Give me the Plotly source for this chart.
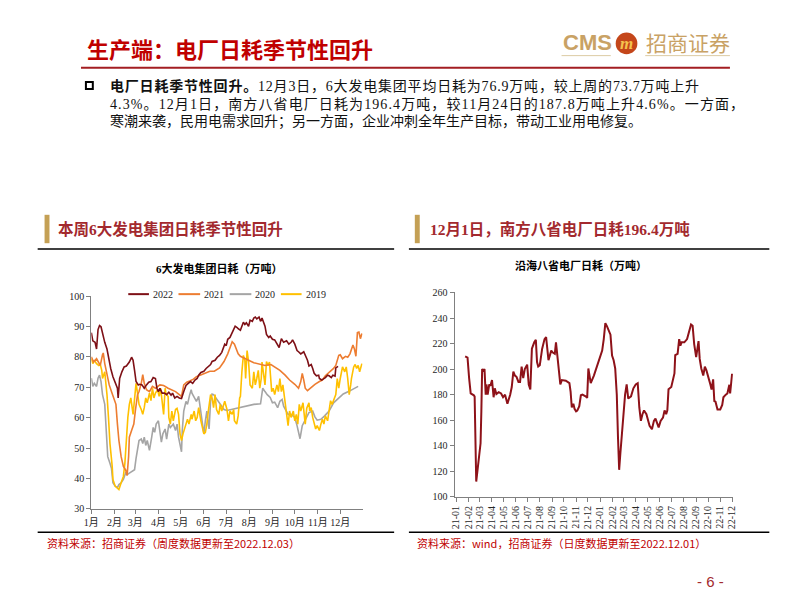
import plotly.graph_objects as go

# The page body has an 8px margin, so the figure is 786x586 and placed at (8, 8).
OFF = 8
W, H = 786, 586
def fx(x): return (x - OFF) / W
def fy(y): return 1 - (y - OFF) / H

# ---------------- Data: left chart (day of year, 10k tons) ----------------
month_days = [0, 31, 59, 90, 120, 151, 181, 212, 243, 273, 304, 334]
month_labels = ["1月", "2月", "3月", "4月", "5月", "6月", "7月", "8月", "9月", "10月", "11月", "12月"]

d2022 = [0, 2, 5, 7, 9, 11, 13, 15, 18, 21,
         23, 26, 29, 32, 35, 36, 38, 41, 44, 47,
         49, 51, 54, 56, 58, 60, 63, 65, 68, 71,
         74, 77, 80, 83, 86, 88, 90, 92, 95, 98,
         101, 104, 107, 109, 112, 115, 118, 121, 124, 127,
         130, 133, 136, 139, 142, 144, 147, 151, 154, 157,
         160, 162, 166, 169, 172, 175, 177, 179, 181, 183,
         186, 188, 191, 193, 196, 197, 200, 202, 204, 206,
         208, 211, 213, 216, 218, 220, 222, 225, 227, 229,
         231, 233, 235, 238, 240, 243, 246, 249, 252, 255,
         258, 262, 265, 268, 270, 273, 276, 278, 281, 285,
         287, 290, 292, 295, 297, 299, 302, 305, 306, 309,
         311, 314, 317, 319, 322, 324, 327, 328, 331]
v2022 = [88, 85.3, 84.8, 82.6, 89, 90.3, 89.9, 87.4, 84.8, 82.6,
         79.4, 76.2, 73.5, 71.3, 69.7, 66.5, 72.9, 75.1, 76.7, 77,
         77.5, 78.3, 79.9, 78.9, 75.6, 71.9, 70.8, 71, 70.8, 69.7,
         70.8, 71.7, 71.9, 73.2, 72.9, 69.7, 68.6, 69.7, 68.1, 68.1,
         67.6, 68.4, 67.4, 68.1, 66.5, 67, 66.5, 66.3, 68.6, 70.6,
         71.3, 71.9, 71.3, 72.4, 72.9, 74, 74.9, 75.3, 76.2, 76.7,
         77.5, 78.5, 78.9, 79.9, 80.5, 81.5, 83.1, 84.2, 83.7, 85.8,
         86.4, 87.4, 88.8, 90.1, 89.6, 89.3, 88.8, 90.1, 91.4, 90.7,
         91.2, 90.1, 92.1, 91.7, 92.8, 93.1, 92.5, 93.1, 91.7, 92.8,
         91.4, 90.1, 87.4, 86.4, 86.9, 85.8, 85.6, 84.5, 83.1, 86,
         84.8, 85.3, 84.2, 84.8, 85.6, 84.2, 82.1, 81.7, 81, 81.7,
         80.7, 78.9, 77, 77.5, 76.2, 74.6, 73.8, 74, 72.9, 72.4,
         72.7, 73.2, 74, 73.8, 73.2, 74, 73.7, 76.4, 76.9]

d2021 = [0, 3, 7, 12, 15, 16, 18, 21, 24, 27,
         30, 33, 35, 37, 40, 43, 46, 48, 50, 51,
         54, 57, 59, 62, 64, 67, 69, 71, 74, 78,
         82, 86, 92, 97, 103, 108, 113, 118, 121, 124,
         128, 132, 137, 141, 146, 152, 159, 165, 172, 178,
         183, 187, 189, 192, 194, 197, 200, 206, 211, 218,
         226, 233, 241, 246, 253, 260, 266, 273, 278, 281,
         283, 285, 287, 290, 295, 300, 306, 310, 314, 320,
         325, 328, 332, 334, 337, 341, 344, 347, 351, 353,
         355, 357, 359, 361, 363]
v2021 = [80, 78.3, 79.4, 77.2, 80.7, 81.3, 77.8, 74, 70.8, 68.6,
         66.7, 64.4, 57.9, 52.5, 47.2, 44, 42.9, 41, 47.2, 53.6,
         55.8, 57.9, 62.2, 67.6, 68.6, 71.3, 74.2, 71.3, 69.2, 68.6,
         70.3, 69.7, 70.8, 70.6, 69.7, 69.2, 68.6, 67.6, 67, 70.8,
         71.7, 72.1, 72.7, 73.5, 74, 74.6, 75.3, 75.3, 76.4, 78.5,
         81, 83.7, 85, 84.2, 82.6, 81, 80.2, 79.6, 78.9, 78.1,
         77.5, 77.2, 77.5, 76.7, 75.6, 74, 72.4, 71, 69.7, 71.9,
         74.6, 72.4, 69.7, 68.9, 70, 71, 71.9, 72.4, 73.8, 75.1,
         76.2, 77.2, 80.5, 80.7, 79.4, 80.2, 79.9, 81, 83.9, 82.6,
         80.2, 88, 88.2, 86, 87.7]

d2020 = [0, 2, 4, 7, 9, 11, 13, 15, 18, 19,
         21, 22, 25, 27, 29, 32, 35, 37, 40, 43,
         46, 48, 51, 55, 58, 60, 62, 64, 67, 69,
         71, 73, 75, 78, 81, 83, 85, 87, 90, 92,
         94, 96, 99, 101, 104, 106, 108, 110, 113, 115,
         117, 119, 121, 122, 124, 127, 129, 132, 134, 135,
         138, 141, 144, 147, 149, 151, 153, 155, 157, 158,
         160, 162, 164, 167, 171, 174, 178, 182, 187, 194,
         200, 209, 218, 227, 230, 233, 236, 240, 243, 246,
         250, 253, 256, 258, 261, 264, 268, 273, 276, 278,
         280, 283, 286, 289, 292, 297, 300, 303, 308, 313,
         319, 325, 332, 338, 345, 352, 358]
v2020 = [73, 70.3, 71.3, 70.3, 73, 74, 71.9, 67.6, 64.4, 59,
         52.5, 47.2, 45, 43.4, 38.6, 37.5, 37, 38, 38.6, 39.7,
         41.8, 41.3, 41.8, 42.3, 42.9, 46.6, 50.4, 52.5, 53, 51.5,
         53.6, 50.9, 52.5, 49.3, 53.6, 56.8, 55.2, 57.9, 59, 55.8,
         52, 54.7, 56.3, 53, 57.9, 56.8, 57.4, 57.9, 55.8, 57.9,
         53.6, 51.5, 48.8, 55.8, 62.2, 65.4, 64.4, 67.6, 69.2, 68.1,
         66.5, 65.4, 67, 62.2, 57.9, 54.7, 59, 62.2, 57.9, 56.3,
         65.4, 67.8, 67.6, 66.5, 64.9, 63.8, 62.7, 62.4, 62.7, 63.1,
         63.5, 63.8, 64.4, 64.6, 69.7, 68.6, 67.6, 66.7, 64.9, 65.1,
         63.3, 65.4, 66, 63.8, 62.2, 61.1, 61.1, 60.1, 57.4, 54.7,
         53.1, 57.4, 59, 60.6, 61.7, 62.2, 60.3, 59.2, 59.5, 60.6,
         62.2, 64.9, 66.5, 67.8, 68.6, 69.5, 70.3]

d2019 = [0, 2, 4, 7, 10, 12, 14, 15, 18, 19,
         21, 23, 25, 28, 29, 32, 35, 37, 40, 43,
         45, 47, 49, 51, 53, 56, 58, 60, 62, 64,
         67, 69, 71, 73, 75, 78, 80, 82, 84, 86,
         89, 91, 93, 95, 97, 99, 100, 103, 104, 106,
         108, 110, 113, 115, 117, 119, 121, 123, 125, 127,
         129, 131, 134, 135, 138, 140, 142, 144, 147, 149,
         151, 153, 155, 157, 160, 162, 164, 166, 168, 171,
         173, 175, 178, 179, 182, 184, 186, 189, 191, 192,
         195, 197, 199, 200, 202, 204, 206, 207, 209, 211,
         213, 216, 218, 220, 222, 224, 226, 228, 229, 231,
         233, 235, 237, 239, 241, 242, 244, 246, 249, 251,
         253, 255, 257, 260, 262, 264, 266, 268, 271, 273,
         275, 277, 279, 281, 284, 286, 287, 289, 292, 293,
         295, 297, 299, 301, 303, 306, 308, 310, 312, 314,
         317, 319, 321, 323, 325, 328, 330, 332, 334, 337,
         340, 342, 344, 346, 348, 349, 352, 354, 356, 358,
         360, 363]
v2019 = [79.4, 77.8, 78.9, 77.8, 77.2, 77.5, 75.6, 72.9, 75.1, 72.9,
         67.6, 60.1, 51.5, 44, 39.7, 37.5, 36.7, 36.4, 38.6, 40.7,
         45, 53.6, 60.1, 64.4, 66.5, 61.1, 67.6, 71.3, 68.1, 64.4,
         62.7, 61.1, 63.3, 66.5, 64.9, 68.1, 65.6, 69.7, 66.5, 68.1,
         69.2, 67, 69.7, 64.4, 61.1, 69.7, 68.1, 67, 60.1, 57.9,
         62.2, 59, 62.7, 63.1, 61.1, 54.7, 52.5, 54.7, 56.8, 57.9,
         59.5, 57.9, 61.1, 59.5, 62.2, 59, 60.1, 63.3, 59, 56.3,
         54.7, 55.2, 57.9, 62.2, 67.6, 66.5, 63.3, 67.6, 62.7, 61.1,
         64.4, 62.2, 64.4, 65.4, 62.7, 59, 62.2, 61.1, 62.7, 59,
         57.9, 60.6, 66.5, 67, 75.1, 80.5, 78.9, 72.9, 82.1, 78.3,
         70.8, 69.7, 75.1, 70.8, 72.9, 75.6, 69.7, 72.9, 78.3, 75.1,
         70.8, 78.5, 77.2, 78.3, 72.9, 68.6, 69.7, 67.6, 70.8, 68.6,
         72.9, 68.6, 70.8, 65.4, 60.1, 57.4, 62.2, 60.1, 62.2, 59,
         61.1, 57.9, 64.4, 62.2, 64.9, 60.1, 57.9, 63.1, 64.9, 62.2,
         63.3, 60.1, 57.9, 56.3, 57.4, 55.8, 57.9, 59.5, 57.9, 60.6,
         59, 62.2, 65.6, 64.4, 66, 67.6, 72.9, 69.7, 72.9, 76.7,
         75.1, 76.7, 72.9, 67.6, 70.8, 72.9, 76.7, 77.5, 76.2, 77.2,
         75.1, 77.8]

# ---------------- Data: right chart (coastal 8 provinces, 10k tons) ----------------
r_dates = ["2021-01-24", "2021-01-30", "2021-02-03", "2021-02-07", "2021-02-15", "2021-02-17",
           "2021-02-21", "2021-02-26", "2021-03-04", "2021-03-06", "2021-03-08", "2021-03-11",
           "2021-03-14", "2021-03-17", "2021-03-19", "2021-03-22", "2021-03-26", "2021-03-29",
           "2021-04-02", "2021-04-06", "2021-04-09", "2021-04-13", "2021-04-19", "2021-04-25",
           "2021-04-30", "2021-05-05", "2021-05-11", "2021-05-18", "2021-05-22", "2021-05-26",
           "2021-05-30", "2021-06-03", "2021-06-08", "2021-06-12", "2021-06-16", "2021-06-20",
           "2021-06-24", "2021-06-30", "2021-07-04", "2021-07-08", "2021-07-12", "2021-07-18",
           "2021-07-22", "2021-07-25", "2021-07-28", "2021-08-01", "2021-08-07", "2021-08-13",
           "2021-08-17", "2021-08-23", "2021-08-26", "2021-08-30", "2021-09-03", "2021-09-08",
           "2021-09-11", "2021-09-15", "2021-09-18", "2021-09-22", "2021-09-26", "2021-10-06",
           "2021-10-15", "2021-10-18", "2021-10-21", "2021-10-25", "2021-10-28", "2021-11-01",
           "2021-11-04", "2021-11-09", "2021-11-13", "2021-11-17", "2021-11-25", "2021-11-29",
           "2021-12-02", "2021-12-08", "2021-12-16", "2021-12-24", "2021-12-30", "2022-01-06",
           "2022-01-10", "2022-01-14", "2022-01-18", "2022-01-22", "2022-01-27", "2022-01-31",
           "2022-02-04", "2022-02-08", "2022-02-12", "2022-02-15", "2022-02-18", "2022-02-21",
           "2022-02-25", "2022-03-01", "2022-03-05", "2022-03-09", "2022-03-13", "2022-03-20",
           "2022-03-26", "2022-04-01", "2022-04-06", "2022-04-10", "2022-04-14", "2022-04-18",
           "2022-04-22", "2022-04-28", "2022-05-02", "2022-05-06", "2022-05-12", "2022-05-17",
           "2022-05-21", "2022-05-25", "2022-05-29", "2022-06-03", "2022-06-09", "2022-06-13",
           "2022-06-17", "2022-06-20", "2022-06-23", "2022-06-30", "2022-07-05", "2022-07-08",
           "2022-07-10", "2022-07-16", "2022-07-20", "2022-07-23", "2022-07-26", "2022-08-02",
           "2022-08-09", "2022-08-14", "2022-08-19", "2022-08-23", "2022-08-27", "2022-09-01",
           "2022-09-04", "2022-09-07", "2022-09-10", "2022-09-14", "2022-09-19", "2022-09-23",
           "2022-09-27", "2022-10-03", "2022-10-07", "2022-10-10", "2022-10-14", "2022-10-17",
           "2022-10-20", "2022-10-25", "2022-11-01", "2022-11-06", "2022-11-09", "2022-11-15",
           "2022-11-19", "2022-11-24", "2022-11-26", "2022-12-01"]
r_vals = [210, 209, 193, 181, 179.5, 178.5,
          112, 124, 142, 167, 200, 199,
          200, 180, 188, 180, 188, 187,
          191.5, 178, 185, 180.5, 182, 181,
          178, 180, 173, 180, 186, 198,
          195, 194, 190, 190, 202, 193,
          200, 203.5, 188, 184, 216, 221,
          223, 205.5, 202, 203, 216, 223.5,
          225, 207, 210, 214.5, 213, 212,
          221, 207, 201, 188, 191.5, 191,
          189, 182.5, 170, 173, 169, 167,
          167.5, 171, 179.5, 180, 178.7, 177.5,
          200.5, 189, 195, 203, 208.6, 214.5,
          223.5, 236, 233.7, 231, 227, 210.7,
          207, 200.5, 180, 146.8, 121.2, 134,
          149.3, 167, 180, 188, 177, 178.7,
          185, 188, 189, 170, 159.5, 164.7,
          167.7, 164.7, 160, 155.7, 153, 159.5,
          161.3, 157, 154.4, 159.5, 162, 167.7,
          164.7, 167.7, 184.3, 186, 194, 196.6,
          211, 212, 223.5, 218.3, 221, 221,
          223.5, 228.5, 235, 234, 219.6, 209.4,
          217, 222, 208, 200.5, 195, 202,
          199, 193, 188, 184, 192, 175,
          174.5, 168.5, 168.5, 172, 178, 180,
          181, 187.8, 181, 196.4]

series_names = ["2022", "2021", "2020", "2019"]
series_colors = ["#7E1016", "#ED7D31", "#A5A5A5", "#FFC000"]

# ---------------- Figure ----------------
fig = go.Figure()
left_series = {"2022": (d2022, v2022), "2021": (d2021, v2021),
               "2020": (d2020, v2020), "2019": (d2019, v2019)}
color_of = dict(zip(series_names, series_colors))
for name in ["2020", "2019", "2021", "2022"]:
    d, v = left_series[name]
    fig.add_trace(go.Scatter(x=d, y=v, mode="lines", name=name,
                             line=dict(color=color_of[name], width=1.6),
                             xaxis="x", yaxis="y", showlegend=False, hoverinfo="skip"))
fig.add_trace(go.Scatter(x=r_dates, y=r_vals, mode="lines", name="沿海八省电厂日耗",
                         line=dict(color="#8E1219", width=2),
                         xaxis="x2", yaxis="y2", showlegend=False, hoverinfo="skip"))

tickfont = dict(family="Liberation Serif, Noto Sans CJK SC", size=10, color="#262626")
axis_common = dict(showline=True, linecolor="#808080", linewidth=1, ticks="outside",
                   ticklen=4, tickcolor="#808080", showgrid=False, zeroline=False,
                   tickfont=tickfont, fixedrange=True)

fig.update_layout(
    width=W, height=H, autosize=False,
    margin=dict(l=0, r=0, t=0, b=0),
    paper_bgcolor="white", plot_bgcolor="white",
    xaxis=dict(domain=[fx(84.5), fx(360)], range=[0, 364], tickmode="array",
               tickvals=month_days, ticktext=month_labels, anchor="y", **axis_common),
    yaxis=dict(domain=[fy(513.3), fy(296)], range=[30, 100], dtick=10, tick0=30,
               anchor="x", **axis_common),
    xaxis2=dict(domain=[fx(453.3), fx(736)], type="date",
                range=["2020-12-28", "2022-12-03"], dtick="M1", tick0="2021-01-01",
                tickformat="%y-%m", tickangle=-90, anchor="y2", **axis_common),
    yaxis2=dict(domain=[fy(501), fy(292.3)], range=[100, 260], dtick=20, tick0=100,
                anchor="x2", **axis_common),
)

shapes = []
def hline(x0, x1, y, color, width):
    shapes.append(dict(type="line", xref="paper", yref="paper", x0=fx(x0), x1=fx(x1),
                       y0=fy(y), y1=fy(y), line=dict(color=color, width=width)))
def rect(x0, y0, x1, y1, fill=None, line=None, kind="rect"):
    shapes.append(dict(type=kind, xref="paper", yref="paper", x0=fx(x0), x1=fx(x1),
                       y0=fy(y1), y1=fy(y0), fillcolor=fill or "rgba(0,0,0,0)",
                       line=line or dict(width=0)))

# header
hline(74, 733, 63, "#A31E22", 2)
hline(562, 612, 50.5, "#DCCBA3", 1)
hline(647, 733, 50.5, "#DCCBA3", 1)
rect(617, 27, 639, 49, fill="#C4461A", kind="circle")
# bullet square
rect(79, 77.5, 86, 84.5, line=dict(color="black", width=2))
# panel bars and rules
rect(37, 213, 42, 242, fill="#C4A055")
rect(413, 213, 418, 242, fill="#C4A055")
for y in (248, 537):
    hline(30, 392, y, "black", 1.5)
    hline(407, 773, y, "black", 1.5)
# custom legend lines
legend_x = [(122, 143), (173, 195), (225, 247), (277, 298)]
for (x0, x1), c in zip(legend_x, series_colors):
    hline(x0, x1, 294, c, 2)

annotations = []
def text(x, y, s, size, color="black", family="Noto Sans CJK SC", xanchor="left", bold=False):
    annotations.append(dict(xref="paper", yref="paper", x=fx(x), y=fy(y), text=(f"<b>{s}</b>" if bold else s),
                            showarrow=False, xanchor=xanchor, yanchor="middle",
                            font=dict(size=size, color=color, family=family)))

serif_cjk = "Liberation Serif, Noto Sans CJK SC"
text(78, 43, "生产端：电厂日耗季节性回升", 22, "#C00000", bold=True)
text(561, 37, "CMS", 22, "#C9A265", family="Liberation Sans, Arial", bold=True)
text(628, 38, "<i>m</i>", 17, "#F4C24E", family="Liberation Serif", xanchor="center", bold=True)
text(646, 37, "招商证券", 21, "#C9A265")

# justified paragraph lines (letter spacing emulates the justified layout)
text(101, 81, "<span style='letter-spacing:0.8px'><b>电厂日耗季节性回升。</b>12月3日，6大发电集团平均日耗为76.9万吨，较上周的73.7万吨上升</span>",
     14, "#111111", serif_cjk)
text(101, 100, "<span style='letter-spacing:1.1px'>4.3%。12月1日，南方八省电厂日耗为196.4万吨，较11月24日的187.8万吨上升4.6%。一方面，</span>",
     14, "#111111", serif_cjk)
text(101, 118, "寒潮来袭，民用电需求回升；另一方面，企业冲刺全年生产目标，带动工业用电修复。",
     14, "#111111", serif_cjk)

text(49, 228, "本周6大发电集团日耗季节性回升", 15.5, "#A3292E", serif_cjk, bold=True)
text(426, 228, "12月1日，南方八省电厂日耗196.4万吨", 15.5, "#A3292E", serif_cjk, bold=True)

text(215, 268, "6大发电集团日耗（万吨）", 11, "black", serif_cjk, xanchor="center", bold=True)
text(582, 265, "沿海八省电厂日耗（万吨）", 11, "black", serif_cjk, xanchor="center", bold=True)

for (x0, x1), name in zip(legend_x, series_names):
    text(x1 + 2, 294, name, 10, "#262626", "Liberation Serif")

text(37, 548, "资料来源：招商证券（周度数据更新至2022.12.03）", 11, "#C00000")
text(413, 548, "资料来源：wind，招商证券（日度数据更新至2022.12.01）", 11, "#C00000")
text(713, 587, "- 6 -", 15, "#A3292E", "Liberation Sans, Arial", xanchor="center")

fig.update_layout(shapes=shapes, annotations=annotations)
fig.write_html("out.html")
